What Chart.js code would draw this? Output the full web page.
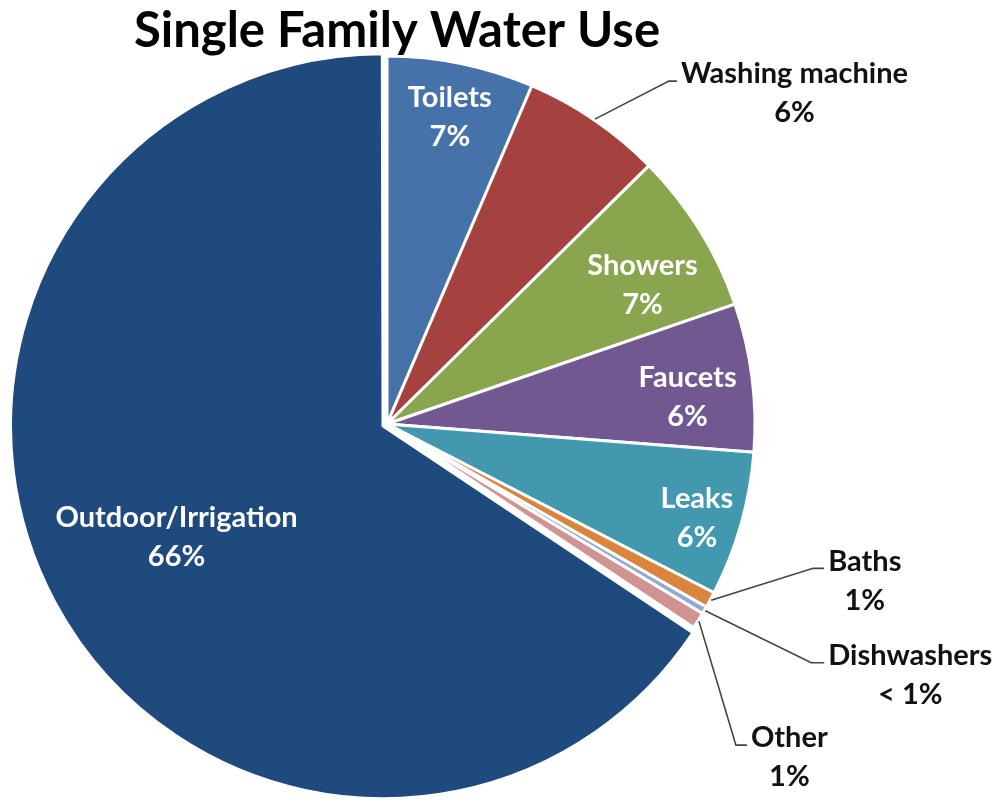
<!DOCTYPE html>
<html><head><meta charset="utf-8">
<script src="https://cdn.jsdelivr.net/npm/chart.js@4"></script>
<style>html,body{margin:0;padding:0;background:#fff}#wrap{width:1001px;height:806px;position:relative}canvas{display:block}</style>
</head><body><div id="wrap"><canvas id="c" width="1001" height="806"></canvas></div>
<script>
const TITLE = 'Single Family Water Use';
const categories = ['Toilets','Washing machine','Showers','Faucets','Leaks','Baths','Dishwashers','Other','Outdoor/Irrigation'];
const shares = [6.44, 6.17, 7.11, 6.5, 6.36, 0.7, 0.33, 0.72, 65.67];
const shareLabels = ['7%','6%','7%','6%','6%','1%','< 1%','1%','66%'];
const sliceColors = ['#4672aa','#a5413e','#89a54e','#715891','#4198af','#db843d','#93a9cf','#d19392','#1f4a7e'];
const explode = [0,0,0,0,0,0,0,0,18];

const FONT = 'Lato, "Open Sans", sans-serif';
const LABEL_SIZE = 29;
const TITLE_SIZE = 49;

// label placement (inside: radial fraction + angular nudge in degrees; outside: elbow offset from arc edge)
const labelLayout = {
  0: {inside: 0.85, turn: 0},
  1: {outside: [74, -38, 8]},
  2: {inside: 0.79, turn: 3.3},
  3: {inside: 0.82, turn: 2.2},
  4: {inside: 0.88, turn: 1},
  5: {outside: [102, -32, 11]},
  6: {outside: [106, 52, 13]},
  7: {outside: [37, 124, 11]},
  8: {inside: 0.6, turn: 0}
};

const labelPlugin = {
  id: 'sliceLabels',
  afterDatasetsDraw(chart) {
    const ctx = chart.ctx;
    const meta = chart.getDatasetMeta(0);
    ctx.save();
    ctx.font = 'bold ' + LABEL_SIZE + 'px ' + FONT;
    ctx.textBaseline = 'middle';
    ctx.textAlign = 'center';
    const gap = 39;
    meta.data.forEach((arc, i) => {
      const p = arc.getProps(['x','y','startAngle','endAngle','outerRadius']);
      const mid = (p.startAngle + p.endAngle) / 2;
      const off = explode[i] || 0;
      const cx = p.x + Math.cos(mid) * off;
      const cy = p.y + Math.sin(mid) * off;
      const L = labelLayout[i];
      const lines = [categories[i], shareLabels[i]];
      if (L.inside !== undefined) {
        const a = mid + (L.turn || 0) * Math.PI / 180;
        const r = p.outerRadius * L.inside;
        const x = cx + Math.cos(a) * r;
        const y = cy + Math.sin(a) * r;
        ctx.fillStyle = '#ffffff';
        ctx.fillText(lines[0], x, y - gap / 2);
        ctx.fillText(lines[1], x, y + gap / 2);
      } else {
        const [dx, dy, seg] = L.outside;
        const ex = cx + Math.cos(mid) * (p.outerRadius + 1);
        const ey = cy + Math.sin(mid) * (p.outerRadius + 1);
        const bx = ex + dx, by = ey + dy;
        ctx.strokeStyle = '#444444';
        ctx.lineWidth = 1.6;
        ctx.beginPath();
        ctx.moveTo(ex, ey);
        ctx.lineTo(bx, by);
        ctx.lineTo(bx + seg, by);
        ctx.stroke();
        const w = Math.max(ctx.measureText(lines[0]).width, ctx.measureText(lines[1]).width);
        const tx = bx + seg + 4 + w / 2;
        const ty = by - 7;
        ctx.fillStyle = '#111111';
        ctx.fillText(lines[0], tx, ty);
        ctx.fillText(lines[1], tx, ty + gap);
      }
    });
    ctx.restore();
  },
  afterDraw(chart) {
    const ctx = chart.ctx;
    ctx.save();
    ctx.font = 'bold ' + TITLE_SIZE + 'px ' + FONT;
    ctx.fillStyle = '#000000';
    ctx.textAlign = 'center';
    ctx.textBaseline = 'middle';
    ctx.fillText(TITLE, 397, 31);
    ctx.restore();
  }
};

new Chart(document.getElementById('c'), {
  type: 'pie',
  data: {
    labels: categories,
    datasets: [{
      data: shares,
      backgroundColor: sliceColors,
      borderColor: '#ffffff',
      borderWidth: 3,
      offset: explode,
      hoverOffset: 0
    }]
  },
  options: {
    responsive: false,
    animation: false,
    devicePixelRatio: 1,
    radius: 368,
    rotation: 0,
    layout: { padding: { left: 0, right: 227, top: 42, bottom: 0 } },
    plugins: {
      legend: { display: false },
      tooltip: { enabled: false },
      title: { display: false }
    }
  },
  plugins: [labelPlugin]
});
</script>
</body></html>
